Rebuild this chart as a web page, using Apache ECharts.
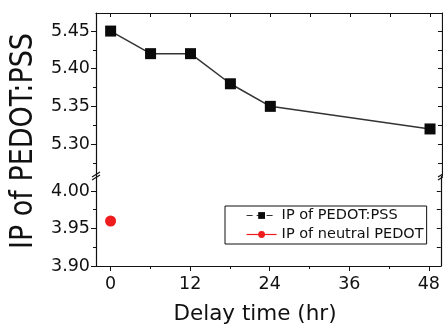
<!DOCTYPE html>
<html>
<head>
<meta charset="utf-8">
<script src="https://cdn.jsdelivr.net/npm/echarts@6/dist/echarts.min.js"></script>
<style>
html,body{margin:0;padding:0;background:#fff;}
#chart{width:443px;height:328px;}
</style>
</head>
<body>
<div id="chart"></div>
<script>
// ---- data ----
const HOURS = [0, 6, 12, 18, 24, 48];
const IP_PEDOT_PSS = [5.45, 5.42, 5.42, 5.38, 5.35, 5.32];
const NEUTRAL_HOURS = [0];
const IP_NEUTRAL_PEDOT = [3.96];
const SERIES_NAMES = ['IP of PEDOT:PSS', 'IP of neutral PEDOT'];
const X_TICKS = [0, 12, 24, 36, 48];
const X_MINOR_TICKS = [6, 18, 30, 42];
const Y_TOP_TICKS = [5.30, 5.35, 5.40, 5.45];
const Y_TOP_MINOR = [5.275, 5.325, 5.375, 5.425];
const Y_BOTTOM_TICKS = [3.90, 3.95, 4.00];
const Y_BOTTOM_MINOR = [3.925, 3.975];
const X_TITLE = 'Delay time (hr)';
const Y_TITLE = 'IP of PEDOT:PSS';

// ---- layout ----
const L = 96, R = 442, T = 13, BRK = 176, B = 266;
const X_RANGE = [-2.2, 49.8];
const Y_TOP_RANGE = [5.2575, 5.474];
const Y_BOT_RANGE = [3.90, 4.02];
const FONT = 'DejaVu Sans';
const INK = '#111';

const chart = echarts.init(document.getElementById('chart'), null, {renderer: 'canvas'});

const allX = X_TICKS.concat(X_MINOR_TICKS);
const allTop = Y_TOP_TICKS.concat(Y_TOP_MINOR);
const allBot = Y_BOTTOM_TICKS.concat(Y_BOTTOM_MINOR);

function yAx(grid, pos, range, opts) {
  return Object.assign({
    type: 'value', gridIndex: grid, position: pos, min: range[0], max: range[1],
    splitLine: {show: false}, axisLine: {show: true, onZero: false, lineStyle: {color: INK, width: 1.2}},
    axisLabel: {show: false}
  }, opts);
}

const option = {
  animation: false,
  backgroundColor: '#fff',
  grid: [
    {left: L, right: 443 - R, top: T, height: BRK - T},
    {left: L, right: 443 - R, top: BRK, height: B - BRK}
  ],
  xAxis: [
    { // top frame of upper panel
      type: 'value', gridIndex: 0, position: 'top', min: X_RANGE[0], max: X_RANGE[1],
      splitLine: {show: false}, axisLine: {show: true, onZero: false, lineStyle: {color: INK, width: 1.2}},
      axisLabel: {show: false},
      axisTick: {show: true, inside: true, length: 4, customValues: allX, lineStyle: {color: INK}}
    },
    { // bottom axis with labels
      type: 'value', gridIndex: 1, position: 'bottom', min: X_RANGE[0], max: X_RANGE[1],
      splitLine: {show: false}, axisLine: {show: true, onZero: false, lineStyle: {color: INK, width: 1.2}},
      axisTick: {show: true, inside: false, length: 5, customValues: X_TICKS, lineStyle: {color: INK}},
      axisLabel: {show: true, customValues: X_TICKS, margin: 9, color: INK, fontFamily: FONT, fontSize: 17.5,
        formatter: v => String(Math.round(v))}
    },
    { // bottom minor ticks
      type: 'value', gridIndex: 1, position: 'bottom', min: X_RANGE[0], max: X_RANGE[1],
      splitLine: {show: false}, axisLine: {show: false, onZero: false}, axisLabel: {show: false},
      axisTick: {show: true, inside: false, length: 3, customValues: X_MINOR_TICKS, lineStyle: {color: INK}}
    }
  ],
  yAxis: [
    yAx(0, 'left', Y_TOP_RANGE, {
      axisTick: {show: true, length: 5, customValues: Y_TOP_TICKS, lineStyle: {color: INK}},
      axisLabel: {show: true, customValues: Y_TOP_TICKS, margin: 6, color: INK, fontFamily: FONT, fontSize: 17.5,
        formatter: v => v.toFixed(2)}
    }),
    yAx(0, 'left', Y_TOP_RANGE, {axisLine: {show: false, onZero: false},
      axisTick: {show: true, length: 3, customValues: Y_TOP_MINOR, lineStyle: {color: INK}}}),
    yAx(0, 'right', Y_TOP_RANGE, {
      axisTick: {show: true, inside: true, length: 4, customValues: allTop, lineStyle: {color: INK}}}),
    yAx(1, 'left', Y_BOT_RANGE, {
      axisTick: {show: true, length: 5, customValues: Y_BOTTOM_TICKS, lineStyle: {color: INK}},
      axisLabel: {show: true, customValues: Y_BOTTOM_TICKS, margin: 6, color: INK, fontFamily: FONT, fontSize: 17.5,
        formatter: v => v.toFixed(2)}
    }),
    yAx(1, 'left', Y_BOT_RANGE, {axisLine: {show: false, onZero: false},
      axisTick: {show: true, length: 3, customValues: Y_BOTTOM_MINOR, lineStyle: {color: INK}}}),
    yAx(1, 'right', Y_BOT_RANGE, {
      axisTick: {show: true, inside: true, length: 4, customValues: allBot, lineStyle: {color: INK}}})
  ],
  legend: {
    orient: 'vertical', left: 225, top: 206,
    padding: [2, 3, 2, 21], itemWidth: 30, itemHeight: 8.5, itemGap: 4,
    borderColor: INK, borderWidth: 1, selectedMode: false,
    textStyle: {fontFamily: FONT, fontSize: 14.5, color: INK, lineHeight: 14},
    data: [
      {name: SERIES_NAMES[0], lineStyle: {type: [6, 4], width: 1.2}},
      {name: SERIES_NAMES[1], lineStyle: {width: 1.2}}
    ]
  },
  series: [
    {
      name: SERIES_NAMES[0], type: 'line', xAxisIndex: 0, yAxisIndex: 0,
      data: HOURS.map((h, i) => [h, IP_PEDOT_PSS[i]]),
      symbol: 'rect', symbolSize: 11,
      itemStyle: {color: '#0a0a0a'},
      lineStyle: {color: '#333', width: 1.5}
    },
    {
      name: SERIES_NAMES[1], type: 'line', xAxisIndex: 1, yAxisIndex: 3,
      data: NEUTRAL_HOURS.map((h, i) => [h, IP_NEUTRAL_PEDOT[i]]),
      symbol: 'circle', symbolSize: 11,
      itemStyle: {color: '#ee1c1c'},
      lineStyle: {color: '#ee1c1c', width: 1.2}
    }
  ],
  graphic: {
    elements: [
      {type: 'text', x: 24, y: 141, rotation: Math.PI / 2, scaleY: 1.15,
        style: {text: Y_TITLE, fontFamily: FONT, fontSize: 27, fill: INK, textAlign: 'center', textVerticalAlign: 'middle'}},
      {type: 'text', x: 255, y: 314,
        style: {text: X_TITLE, fontFamily: FONT, fontSize: 21.5, fill: INK, textAlign: 'center', textVerticalAlign: 'middle'}},
      {type: 'line', shape: {x1: L - 4, y1: BRK + 1, x2: L + 4, y2: BRK - 4}, style: {stroke: INK, lineWidth: 1.2}},
      {type: 'line', shape: {x1: L - 4, y1: BRK + 4, x2: L + 4, y2: BRK - 1}, style: {stroke: INK, lineWidth: 1.2}},
      {type: 'line', shape: {x1: R - 4, y1: BRK + 1, x2: R + 4, y2: BRK - 4}, style: {stroke: INK, lineWidth: 1.2}},
      {type: 'line', shape: {x1: R - 4, y1: BRK + 4, x2: R + 4, y2: BRK - 1}, style: {stroke: INK, lineWidth: 1.2}}
    ]
  }
};
chart.setOption(option);
</script>
</body>
</html>
